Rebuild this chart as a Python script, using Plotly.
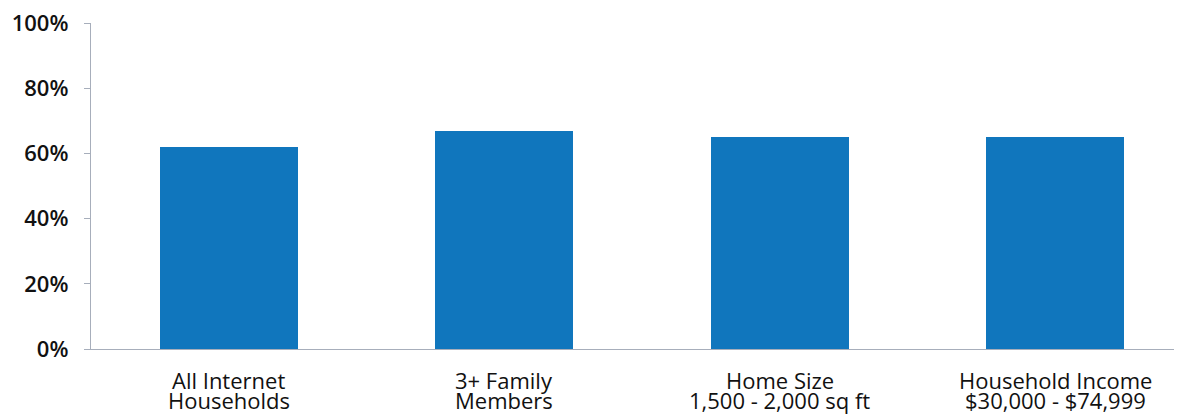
import plotly.graph_objects as go

categories = ["All Internet", "3+ Family", "Home Size", "Household Income"]
categories_line2 = ["Households", "Members", "1,500 - 2,000 sq ft", "$30,000 - $74,999"]
values = [0.62, 0.67, 0.65, 0.65]
y_ticks = [0, 0.2, 0.4, 0.6, 0.8, 1.0]
y_tick_labels = ["0%", "20%", "40%", "60%", "80%", "100%"]

x_pos = list(range(len(categories)))

fig = go.Figure(go.Bar(
    x=x_pos, y=values, width=0.5,
    marker=dict(color="#1076BD", line=dict(width=0)),
    hoverinfo="skip",
))

FONT = "Open Sans"
annotations = []
for i, (l1, l2) in enumerate(zip(categories, categories_line2)):
    annotations.append(dict(x=x_pos[i], y=0, xref="x", yref="paper", text=l1,
                            showarrow=False, yanchor="middle", yshift=-31,
                            font=dict(family=FONT, size=22, color="#111111")))
    annotations.append(dict(x=x_pos[i], y=0, xref="x", yref="paper", text=l2,
                            showarrow=False, yanchor="middle", yshift=-51,
                            font=dict(family=FONT, size=22, color="#111111")))

fig.update_layout(
    width=1182, height=414,
    margin=dict(l=83, r=9, t=15, b=73, autoexpand=False),
    paper_bgcolor="white", plot_bgcolor="white",
    font=dict(family=FONT, size=22, color="#111111"),
    showlegend=False,
    bargap=0,
    annotations=annotations,
)
fig.update_xaxes(
    range=[-0.5, 3.456], automargin=False,
    tickmode="array", tickvals=x_pos, showticklabels=False,
    showgrid=False, zeroline=False,
    showline=True, linecolor="#A7AEBB", linewidth=1.3,
    ticks="",
)
fig.update_yaxes(
    range=[0, 1.0], automargin=False,
    tickmode="array", tickvals=y_ticks, ticktext=y_tick_labels,
    showgrid=False, zeroline=False,
    showline=True, linecolor="#A7AEBB", linewidth=1.3,
    ticks="outside", ticklen=6, tickcolor="#A7AEBB", tickwidth=1.3,
    ticklabelstandoff=11, ticklabeloverflow="allow",
    tickfont=dict(family=FONT, size=22, weight=600),
)

fig.write_html("out.html")
